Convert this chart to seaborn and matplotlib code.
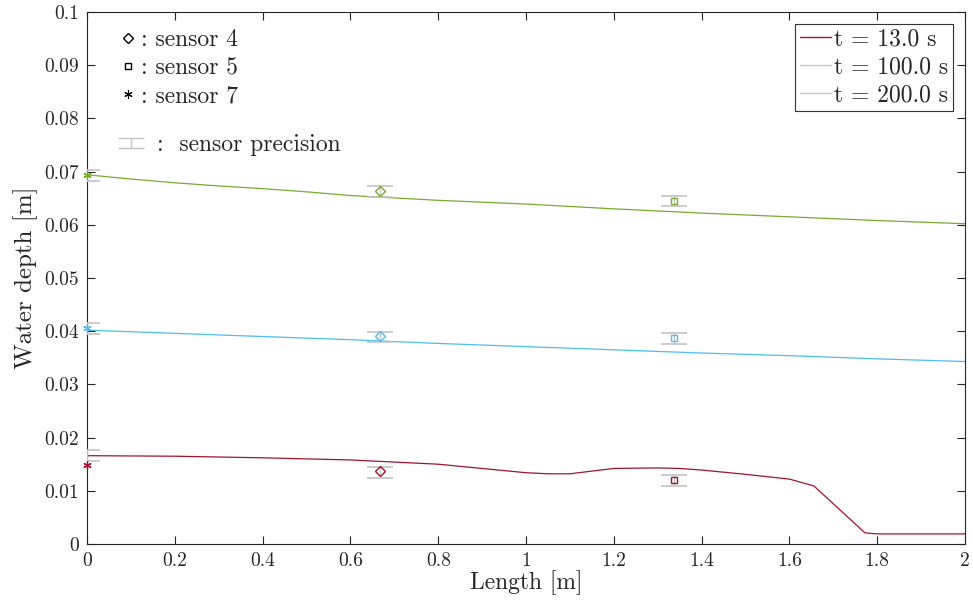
import numpy as np
import pandas as pd
import matplotlib
matplotlib.use("Agg")
import matplotlib.pyplot as plt
import seaborn as sns
from matplotlib.lines import Line2D
from matplotlib.collections import LineCollection
from matplotlib.container import ErrorbarContainer
from matplotlib.legend_handler import HandlerErrorbar

# ---------------- data ----------------
times = ["t = 13.0 s", "t = 100.0 s", "t = 200.0 s"]
line_colors = ["#A2142F", "#4DBEEE", "#77AC30"]
legend_colors = ["#A2142F", "#C8C8C8", "#C8C8C8"]

x_red = [0, 0.2, 0.4, 0.6, 0.8, 0.9, 1.0, 1.05, 1.1, 1.15, 1.2, 1.3, 1.35,
         1.4, 1.5, 1.6, 1.656, 1.772, 1.8, 2.0]
y_red = [0.0166, 0.0165, 0.0162, 0.0158, 0.0150, 0.0142, 0.0134, 0.0132,
         0.0132, 0.0137, 0.0142, 0.0143, 0.0142, 0.0139, 0.0131, 0.0122,
         0.0109, 0.0021, 0.0019, 0.0019]

x_blue = [0, 0.2, 0.4, 0.6, 0.8, 1.0, 1.2, 1.4, 1.6, 1.8, 2.0]
y_blue = [0.0402, 0.0396, 0.0390, 0.0384, 0.0377, 0.0371, 0.0365, 0.0359,
          0.0354, 0.0348, 0.0343]

x_green = [0, 0.1, 0.2, 0.3, 0.4, 0.5, 0.6, 0.8, 1.0, 1.2, 1.4, 1.6, 1.8, 2.0]
y_green = [0.0694, 0.0686, 0.0679, 0.0673, 0.0668, 0.0662, 0.0655, 0.0646,
           0.0639, 0.0630, 0.0622, 0.0615, 0.0608, 0.0602]

sensor_names = ["sensor 4", "sensor 5", "sensor 7"]
sensor_x = [0.667, 1.337, 0.0]
# measured values per time (rows: 13 s, 100 s, 200 s; cols: sensor 4, 5, 7)
sensor_vals = [[0.0137, 0.0120, 0.0148],
               [0.0391, 0.0387, 0.0406],
               [0.0664, 0.0645, 0.0694]]
# centres of precision bars
bar_centres = [[0.0135, 0.0119, 0.0166],
               [0.0389, 0.0386, 0.0405],
               [0.0663, 0.0645, 0.0693]]
precision = 0.001

xticks = [0, 0.2, 0.4, 0.6, 0.8, 1.0, 1.2, 1.4, 1.6, 1.8, 2.0]
xtick_labels = ["0", "0.2", "0.4", "0.6", "0.8", "1", "1.2", "1.4", "1.6", "1.8", "2"]
yticks = [0, 0.01, 0.02, 0.03, 0.04, 0.05, 0.06, 0.07, 0.08, 0.09, 0.1]
ytick_labels = ["0", "0.01", "0.02", "0.03", "0.04", "0.05", "0.06", "0.07",
                "0.08", "0.09", "0.1"]

# ---------------- style ----------------
sns.set_style("ticks")
plt.rcParams.update({
    "font.family": "serif",
    "font.serif": ["cmr10"],
    "mathtext.fontset": "cm",
    "axes.formatter.use_mathtext": True,
    "axes.unicode_minus": False,
    "axes.edgecolor": "#262626",
    "axes.linewidth": 0.8,
    "xtick.color": "#262626",
    "ytick.color": "#262626",
    "xtick.labelcolor": "#262626",
    "ytick.labelcolor": "#262626",
})

fig = plt.figure(figsize=(9.73, 6.12), dpi=100)
ax = fig.add_axes([87 / 973, 68 / 612, 878 / 973, 532 / 612])

df = pd.concat([
    pd.DataFrame({"Length": x_red, "Depth": y_red, "time": times[0]}),
    pd.DataFrame({"Length": x_blue, "Depth": y_blue, "time": times[1]}),
    pd.DataFrame({"Length": x_green, "Depth": y_green, "time": times[2]}),
])
sns.lineplot(data=df, x="Length", y="Depth", hue="time", palette=line_colors,
             hue_order=times, linewidth=0.9, ax=ax, legend=False, sort=False)

markers = ["D", "s", (6, 2, 0)]
msizes = [5.5, 5.0, 6.0]
for ti in range(3):
    ax.errorbar(sensor_x, bar_centres[ti], yerr=precision, fmt="none",
                ecolor="#C4C4C4", elinewidth=1.0, capsize=9.5, capthick=1.2,
                zorder=3)
    for si in range(3):
        mk = markers[si]
        if si == 2:
            ax.plot([sensor_x[si]], [sensor_vals[ti][si]], linestyle="none",
                    marker=mk, markersize=msizes[si], color=line_colors[ti],
                    markeredgewidth=0.9, zorder=4, clip_on=False)
        else:
            ax.plot([sensor_x[si]], [sensor_vals[ti][si]], linestyle="none",
                    marker=mk, markersize=msizes[si], markerfacecolor="none",
                    markeredgecolor=line_colors[ti], markeredgewidth=1.0,
                    zorder=4)

ax.set_xlim(0, 2)
ax.set_ylim(0, 0.1)
ax.set_xticks(xticks)
ax.set_xticklabels(xtick_labels)
ax.set_yticks(yticks)
ax.set_yticklabels(ytick_labels)
ax.tick_params(direction="in", length=6, width=0.8, top=True, right=True,
               labelsize=14, pad=6)
for s in ax.spines.values():
    s.set_visible(True)
ax.set_xlabel("Length [m]", fontsize=17, labelpad=0)
ax.set_ylabel("Water depth [m]", fontsize=18, labelpad=4)

# main legend
handles = [Line2D([], [], color=c, lw=1.0) for c in legend_colors]
leg = ax.legend(handles, times,
                loc="upper right", fontsize=17,
                frameon=True, fancybox=False, edgecolor="black",
                handlelength=1.3, handletextpad=0.15, borderpad=0.2,
                labelspacing=0.25, borderaxespad=0.5)
leg.get_frame().set_linewidth(0.8)
ax.add_artist(leg)

# sensor key
key_handles = [Line2D([], [], ls="none", marker="D", markersize=5,
                      markerfacecolor="none", markeredgecolor="black"),
               Line2D([], [], ls="none", marker="s", markersize=4.5,
                      markerfacecolor="none", markeredgecolor="black"),
               Line2D([], [], ls="none", marker=(6, 2, 0), markersize=6,
                      color="black", markeredgewidth=0.8)]
key = ax.legend(key_handles, [": " + n for n in sensor_names],
                loc="upper left", bbox_to_anchor=(0.012, 1.008), fontsize=17,
                frameon=False, handlelength=0.8, handletextpad=0.15,
                labelspacing=0.25)
ax.add_artist(key)

# precision key
eb_line = Line2D([], [], ls="none")
eb_bar = LineCollection([], color="#C4C4C4", linewidth=1.0)
eb_caps = Line2D([], [], ls="none", marker="_", markersize=19,
                 color="#C4C4C4", markeredgewidth=1.0)
eb_handle = ErrorbarContainer((eb_line, (eb_caps,), (eb_bar,)),
                              has_xerr=False, has_yerr=True)
prec = ax.legend([eb_handle], [":  sensor precision"], loc="upper left",
                 bbox_to_anchor=(0.004, 0.81), fontsize=17, frameon=False,
                 handlelength=1.6, handletextpad=0.3,
                 handler_map={ErrorbarContainer: HandlerErrorbar(yerr_size=0.22)})

fig.savefig("out.png", dpi=100)
